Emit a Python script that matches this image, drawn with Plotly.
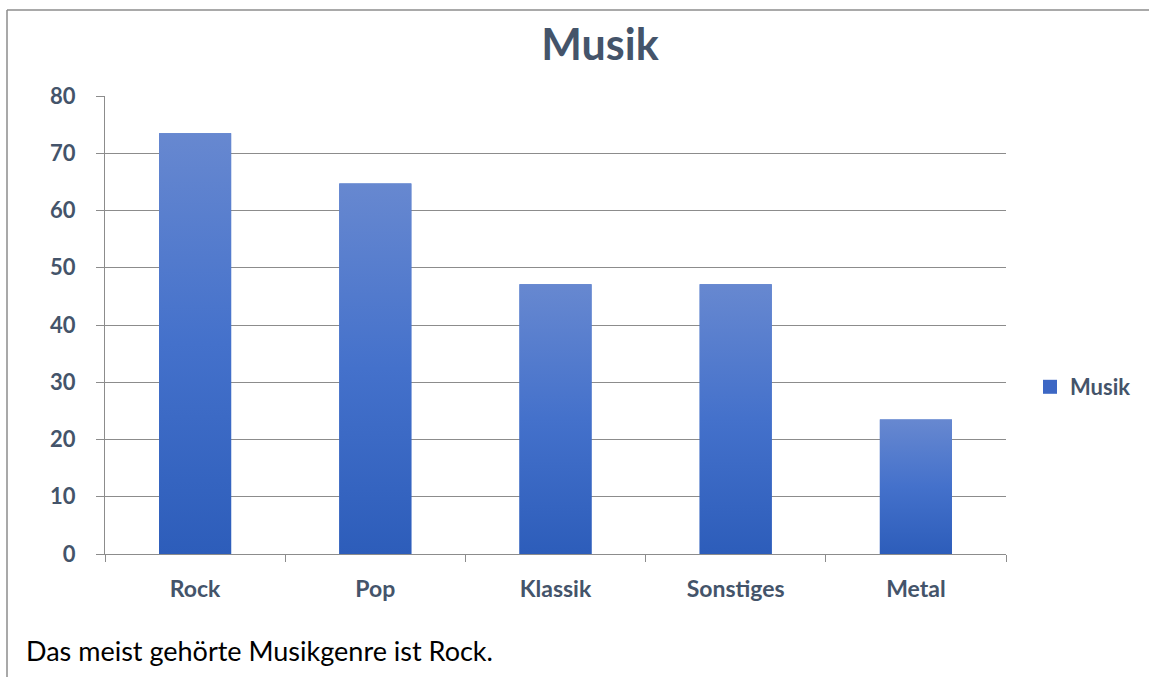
import plotly.graph_objects as go

categories = ["Rock", "Pop", "Klassik", "Sonstiges", "Metal"]
values = [73.5, 64.7, 47.1, 47.1, 23.5]
series_name = "Musik"
y_ticks = [0, 10, 20, 30, 40, 50, 60, 70, 80]

TEXT = "#44546A"
GRID = "#8C8C8C"
FONT = "Lato, Open Sans, sans-serif"
BAR_W = 0.4

W, H = 1149, 677
L, R, T, B = 105, 143, 96, 123
pw, ph = W - L - R, H - T - B
xs = list(range(len(categories)))

fig = go.Figure()
# base bars (solid), drawn through the bar trace
fig.add_trace(go.Bar(
    x=xs, y=values, width=BAR_W, marker=dict(color="#3F6BC6", line=dict(width=0)),
    name=series_name, showlegend=False, hoverinfo="skip",
))
# gradient overlay for each bar
for i, v in zip(xs, values):
    x0, x1 = i - BAR_W / 2, i + BAR_W / 2
    fig.add_trace(go.Scatter(
        x=[x0, x1, x1, x0, x0], y=[0, 0, v, v, 0],
        mode="lines", fill="toself", line=dict(width=0, color="#4472C4"),
        fillcolor="#4472C4",
        fillgradient=dict(type="vertical",
                          colorscale=[[0, "#2D5DBA"], [0.5, "#4471CB"], [1, "#6788D0"]]),
        showlegend=False, hoverinfo="skip",
    ))
# legend entry (square swatch)
fig.add_trace(go.Scatter(
    x=[None], y=[None], mode="markers", name=f"<b>{series_name}</b>",
    marker=dict(symbol="square", size=14, color="#3C67C4"), showlegend=True, hoverinfo="skip",
))

fig.update_layout(
    width=W, height=H,
    margin=dict(l=L, r=R, t=T, b=B, autoexpand=False),
    paper_bgcolor="white", plot_bgcolor="white",
    font=dict(family=FONT, color=TEXT),
    title=dict(text="<b>Musik</b>", x=(600 - L) / pw, xref="paper", xanchor="center",
               y=1 - 45 / H, yanchor="middle", font=dict(size=43, color=TEXT, family=FONT)),
    showlegend=True,
    legend=dict(x=(1030 - L) / pw, xanchor="left", y=(554 - 387) / ph, yanchor="middle",
                font=dict(size=22, color=TEXT, family=FONT), itemwidth=30,
                bgcolor="rgba(0,0,0,0)"),
    xaxis=dict(range=[-0.5, len(categories) - 0.5], tickmode="array",
               tickvals=xs, ticktext=[f"<b>{c}</b>" for c in categories],
               ticks="", showgrid=False, zeroline=False, showline=True, linecolor=GRID,
               tickfont=dict(size=23, color=TEXT, family=FONT), ticklabelstandoff=14,
               minor=dict(tickmode="array", tickvals=[i - 0.5 for i in range(len(categories) + 1)],
                          ticks="outside", ticklen=7, tickcolor=GRID, showgrid=False),
               fixedrange=True),
    yaxis=dict(range=[0, 80], tickmode="array", tickvals=y_ticks,
               ticktext=[f"<b>{t}</b>" for t in y_ticks],
               ticks="outside", ticklen=8, tickcolor=GRID, showgrid=True, gridcolor=GRID,
               gridwidth=1, zeroline=False, showline=True, linecolor=GRID,
               tickfont=dict(size=22, color=TEXT, family=FONT), ticklabelstandoff=16,
               fixedrange=True),
    annotations=[dict(text="Das meist gehörte Musikgenre ist Rock.", xref="paper", yref="paper",
                      x=(24 - L) / pw, y=-(650 - 554) / ph, xanchor="left", yanchor="middle",
                      showarrow=False, font=dict(size=27, color="#000000", family=FONT))],
    shapes=[
        dict(type="line", xref="paper", yref="paper", x0=(7 - L) / pw, x1=(W + 5 - L) / pw,
             y0=(554 - 10) / ph, y1=(554 - 10) / ph, line=dict(color=GRID, width=1.5)),
        dict(type="line", xref="paper", yref="paper", x0=(7 - L) / pw, x1=(7 - L) / pw,
             y0=(554 - 10) / ph, y1=-(H - 554 + 5) / ph, line=dict(color=GRID, width=1.5)),
    ],
)

fig.write_html("out.html", config={"displayModeBar": False},
               post_script="document.body.style.margin='0';document.body.style.overflow='hidden';")
